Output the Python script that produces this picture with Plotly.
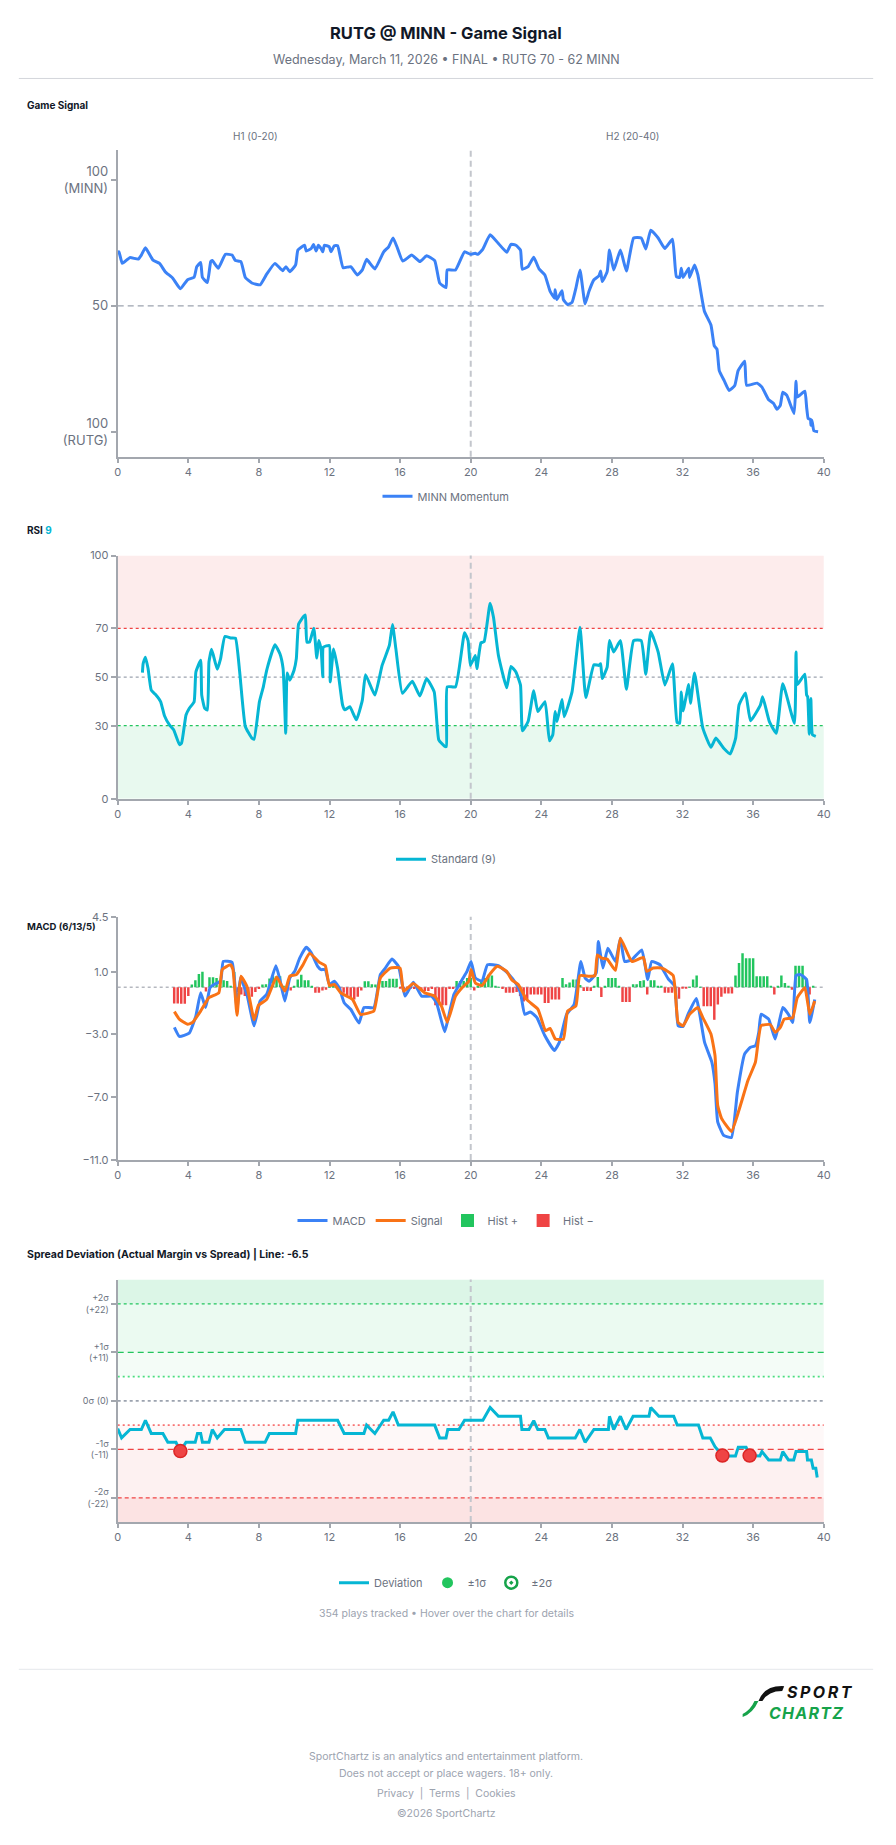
import plotly.graph_objects as go

W, H = 896, 1845


def py(p):
    return 1 - p / H


def px(p):
    return p / W


FONT = "Inter, 'Noto Sans', sans-serif"
AXIS_COL = "#a3a7ae"
TICK_COL = "#6b7280"

X_TICKS = [0, 4, 8, 12, 16, 20, 24, 28, 32, 36, 40]

# ---------------- Game Signal (MINN momentum, 0 = RUTG 100, 100 = MINN 100)
GS_TICKVALS = [0, 50, 100]
GS_TICKTEXT = ["100<br>(RUTG)", "50", "100<br>(MINN)"]
GS_POINTS = [
    (0, 71.3), (0.07, 71.5), (0.26, 66.9), (0.69, 69.2), (1.16, 68.6), (1.34, 70.2), (1.57, 73.1),
    (2.0, 68.2), (2.37, 66.9), (2.69, 63.6), (3.12, 61.0), (3.55, 56.8), (3.96, 60.4), (4.33, 61.4),
    (4.48, 65.6), (4.7, 67.3), (4.8, 61.3), (5.08, 59.3), (5.27, 67.6), (5.36, 68.0), (5.7, 65.0),
    (6.1, 70.5), (6.48, 70.2), (6.67, 68.0), (6.98, 67.6), (7.23, 61.3), (7.6, 59.1), (8.07, 58.4),
    (8.44, 62.6), (8.91, 66.9), (9.34, 64.0), (9.53, 65.6), (9.75, 63.6), (10.08, 66.3), (10.21, 72.2),
    (10.59, 74.1), (10.68, 71.8), (10.96, 72.8), (11.09, 74.4), (11.24, 71.8), (11.37, 74.1),
    (11.52, 72.8), (11.62, 71.5), (11.71, 74.1), (11.99, 73.5), (12.08, 71.5), (12.27, 73.9),
    (12.46, 73.9), (12.77, 65.2), (13.2, 65.6), (13.58, 62.3), (13.86, 64.3), (14.1, 68.5),
    (14.57, 64.7), (15.07, 71.5), (15.35, 73.5), (15.6, 77.0), (15.82, 73.5), (16.15, 67.8),
    (16.66, 70.2), (17.12, 67.6), (17.5, 69.9), (17.96, 68.0), (18.24, 59.1), (18.6, 57.3),
    (18.67, 64.3), (19.14, 64.3), (19.65, 71.5), (19.98, 70.5), (20.26, 70.9), (20.41, 70.5),
    (20.69, 72.6), (21.1, 78.3), (21.57, 74.8), (22.04, 71.3), (22.28, 74.5), (22.56, 74.1),
    (22.82, 72.2), (22.92, 64.6), (23.25, 65.6), (23.57, 69.3), (23.87, 64.7), (24.2, 62.3),
    (24.5, 55.8), (24.75, 53.1), (24.78, 56.4), (24.88, 52.5), (25.17, 56.0), (25.25, 52.5),
    (25.49, 50.5), (25.74, 51.4), (25.96, 57.1), (26.19, 64.3), (26.48, 50.8), (26.7, 55.8),
    (26.98, 60.4), (27.26, 61.9), (27.36, 63.9), (27.45, 59.7), (27.73, 63.6), (27.86, 72.2),
    (28.1, 64.3), (28.48, 72.2), (28.82, 63.9), (29.23, 77.0), (29.66, 77.0), (29.92, 72.6),
    (30.2, 80.1), (30.62, 77.0), (31.0, 72.8), (31.43, 76.5), (31.65, 61.7), (31.84, 61.3),
    (31.93, 65.0), (32.03, 61.3), (32.35, 65.0), (32.4, 61.3), (32.68, 66.3), (32.87, 62.3),
    (33.24, 47.9), (33.61, 42.4), (33.8, 34.1), (33.95, 32.8), (34.08, 24.3), (34.36, 20.3),
    (34.64, 16.4), (34.96, 18.4), (35.15, 24.3), (35.52, 28.0), (35.63, 18.4), (36.23, 19.3),
    (36.5, 17.7), (36.88, 12.7), (37.16, 11.2), (37.35, 8.9), (37.54, 10.5), (37.68, 15.7),
    (37.91, 14.4), (38.32, 7.2), (38.43, 20.1), (38.5, 13.8), (38.93, 16.1), (39.03, 9.8),
    (39.12, 5.2), (39.25, 4.9), (39.27, 2.6), (39.33, 4.6), (39.44, 0.4), (39.68, 0.0),
]

# ---------------- RSI (9)
RSI_TICKS = [0, 30, 50, 70, 100]
RSI_POINTS = [
    (1.4, 51.8), (1.44, 55.5), (1.57, 58.2), (1.72, 53.5), (1.9, 44.6), (2.13, 42.9), (2.43, 39.9),
    (2.65, 34.1), (2.93, 30.3), (3.17, 28.3), (3.5, 22.2), (3.62, 22.9), (3.87, 34.4), (4.05, 37.1),
    (4.33, 39.9), (4.43, 52.1), (4.7, 56.9), (4.76, 42.6), (4.93, 37.1), (5.08, 36.5), (5.17, 56.2),
    (5.32, 61.4), (5.64, 53.2), (5.83, 57.6), (6.07, 66.7), (6.39, 66.1), (6.67, 66.0), (6.91, 52.1),
    (7.23, 29.7), (7.6, 24.9), (7.73, 24.5), (8.03, 39.9), (8.25, 46.0), (8.44, 52.8), (8.91, 63.3),
    (9.19, 59.6), (9.37, 53.5), (9.52, 26.9), (9.6, 51.7), (9.75, 48.7), (9.99, 52.8), (10.12, 57.6),
    (10.25, 71.8), (10.54, 75.0), (10.63, 75.5), (10.72, 64.4), (10.87, 64.4), (11.11, 70.1),
    (11.28, 57.8), (11.39, 65.0), (11.52, 61.6), (11.62, 50.1), (11.65, 62.3), (11.99, 63.0),
    (12.04, 48.0), (12.23, 61.6), (12.46, 53.5), (12.74, 38.5), (12.87, 36.5), (13.15, 37.8),
    (13.52, 32.4), (13.86, 40.5), (14.04, 51.0), (14.57, 42.6), (14.98, 54.8), (15.39, 63.0),
    (15.57, 71.6), (15.76, 61.6), (16.13, 43.3), (16.69, 48.3), (17.12, 42.2), (17.5, 49.4),
    (17.93, 43.9), (18.19, 24.2), (18.53, 21.5), (18.62, 21.5), (18.67, 46.0), (19.14, 46.0),
    (19.65, 68.2), (19.85, 65.0), (19.98, 54.8), (20.26, 58.9), (20.35, 53.5), (20.58, 64.1),
    (20.76, 64.6), (21.1, 80.4), (21.29, 74.6), (21.57, 58.9), (22.04, 45.6), (22.28, 54.4),
    (22.56, 52.1), (22.82, 46.7), (22.93, 27.9), (23.25, 31.7), (23.57, 44.4), (23.8, 35.8),
    (24.21, 39.9), (24.46, 23.8), (24.65, 26.3), (24.78, 35.8), (24.89, 31.7), (25.17, 40.8),
    (25.3, 33.7), (25.74, 43.9), (26.19, 70.5), (26.52, 41.6), (26.98, 55.1), (27.26, 54.8),
    (27.36, 55.5), (27.45, 49.4), (27.73, 54.1), (27.86, 65.0), (28.1, 60.3), (28.48, 65.0),
    (28.82, 45.0), (29.23, 65.0), (29.66, 65.0), (29.92, 51.2), (30.2, 68.7), (30.62, 60.3),
    (31.0, 46.7), (31.43, 55.5), (31.69, 31.4), (31.84, 31.0), (31.93, 43.9), (32.03, 36.1),
    (32.35, 46.9), (32.45, 39.2), (32.68, 51.7), (33.15, 29.0), (33.61, 21.1), (33.89, 24.9),
    (34.36, 20.5), (34.7, 18.4), (35.01, 24.9), (35.2, 38.5), (35.57, 43.5), (35.85, 32.0),
    (36.41, 38.5), (36.54, 41.9), (36.92, 31.7), (37.31, 26.9), (37.68, 47.3), (38.34, 31.0),
    (38.43, 60.3), (38.5, 46.9), (38.93, 51.2), (39.03, 42.6), (39.09, 41.9), (39.18, 26.5),
    (39.27, 41.2), (39.36, 26.3), (39.55, 25.6),
]

# ---------------- MACD (6/13/5)
MACD_TICKS = [4.5, 1.0, -3.0, -7.0, -11.0]
MACD_POINTS = [
    (3.21, -2.56), (3.49, -3.13), (4.05, -2.92), (4.43, -1.82), (4.7, -0.35), (4.98, -1.29),
    (5.23, -0.03), (5.45, 0.18), (5.83, 0.39), (5.98, 1.65), (6.48, 1.59), (6.76, -1.4), (6.95, 0.6),
    (7.32, -0.45), (7.73, -2.45), (8.07, -0.87), (8.44, -0.45), (8.96, 1.38), (9.19, 0.49),
    (9.47, -0.87), (9.75, 0.6), (10.03, 1.02), (10.31, 1.86), (10.68, 2.56), (10.96, 2.22),
    (11.33, 1.34), (11.52, 1.13), (11.76, 1.13), (11.99, 0.18), (12.27, 0.39), (12.55, -0.03),
    (12.83, -0.98), (13.2, -1.4), (13.67, -2.28), (13.95, -1.29), (14.51, -1.29), (14.88, 0.81),
    (15.16, 1.23), (15.54, 1.8), (15.91, 1.34), (16.28, -0.56), (16.75, 0.33), (17.22, -0.56),
    (17.78, -0.56), (18.06, -0.98), (18.52, -2.83), (18.67, -2.24), (19.05, -0.45), (19.51, 0.49),
    (19.79, 1.02), (20.02, 1.65), (20.26, 0.6), (20.64, 0.39), (20.95, 1.44), (21.57, 1.38),
    (22.13, 0.87), (22.6, 0.18), (22.82, -0.35), (23.06, -1.72), (23.38, -1.57), (23.75, -1.93),
    (24.18, -3.04), (24.74, -4.03), (25.02, -3.51), (25.43, -1.72), (25.86, -1.08), (26.24, 1.65),
    (26.48, 0.6), (26.7, 0.39), (27.11, 0.92), (27.23, 2.92), (27.49, 1.23), (27.77, 2.49),
    (28.2, 1.65), (28.48, 3.13), (28.72, 1.65), (29.13, 1.76), (29.69, 2.39), (30.03, 0.49),
    (30.25, 1.65), (30.72, 1.44), (31.19, 0.54), (31.56, 0.07), (31.75, -2.45), (32.03, -2.49),
    (32.31, -1.72), (32.78, -0.71), (33.25, -3.51), (33.66, -4.77), (33.84, -6.14), (33.99, -8.56),
    (34.33, -9.44), (34.77, -9.57), (35.11, -6.66), (35.52, -4.24), (35.85, -3.82), (36.13, -3.72),
    (36.32, -2.87), (36.45, -1.72), (36.88, -2.03), (37.25, -3.3), (37.68, -1.29), (38.0, -1.72),
    (38.24, -2.24), (38.43, 0.75), (38.69, 0.81), (39.03, 0.49), (39.21, -2.24), (39.49, -0.77),
]
SIGNAL_POINTS = [
    (3.21, -1.55), (3.49, -2.03), (3.96, -2.35), (4.24, -2.24), (4.7, -1.51), (5.17, -0.66),
    (5.73, -0.35), (5.92, 1.13), (6.39, 1.44), (6.53, 1.13), (6.76, -1.78), (6.98, 0.71),
    (7.32, 0.07), (7.73, -2.07), (7.97, -1.15), (8.44, -0.77), (9.0, 0.66), (9.47, -0.24),
    (9.75, 0.71), (10.12, 0.81), (10.5, 1.44), (10.87, 2.18), (11.43, 1.59), (11.76, 1.38),
    (11.99, 0.12), (12.27, 0.18), (12.64, -0.35), (13.3, -0.77), (13.76, -1.72), (14.51, -1.51),
    (14.88, 0.6), (15.44, 1.23), (16.0, 1.23), (16.19, -0.24), (16.75, 0.24), (17.4, -0.35),
    (17.96, -0.56), (18.34, -1.19), (18.67, -2.22), (19.14, -0.56), (19.51, -0.03), (19.89, 0.39),
    (20.02, 1.13), (20.26, 0.28), (20.64, 0.12), (21.1, 0.87), (21.51, 1.34), (22.04, 1.02),
    (22.32, 0.49), (22.69, 0.18), (23.16, -0.77), (23.81, -1.4), (24.24, -2.77), (24.5, -2.62),
    (24.8, -3.3), (25.25, -3.3), (25.49, -1.51), (25.96, -1.19), (26.18, 0.75), (26.7, 0.71),
    (27.04, 0.75), (27.17, 2.07), (27.41, 1.86), (27.73, 1.8), (28.2, 1.08), (28.48, 3.13),
    (29.13, 1.65), (29.78, 1.91), (29.97, 1.02), (30.34, 1.23), (30.81, 1.23), (31.47, 0.75),
    (31.75, -2.24), (32.03, -2.45), (32.4, -1.72), (32.87, -1.29), (33.15, -1.93), (33.61, -2.98),
    (33.84, -4.35), (33.99, -7.51), (34.21, -8.35), (34.77, -9.19), (35.2, -7.82), (35.71, -5.93),
    (36.13, -4.77), (36.45, -2.45), (36.97, -2.37), (37.25, -2.87), (37.54, -2.56), (37.76, -2.03),
    (38.24, -1.93), (38.5, -0.66), (38.93, -0.03), (39.21, -1.72), (39.49, -0.87),
]
HIST_START, HIST_STEP = 3.2, 0.2
HIST_VALUES = [
    -1.03, -1.03, -1.05, -1.05, -0.55, 0.18, 0.45, 0.85, 1.0, -0.27,
    0.64, 0.64, 0.6, 0.45, 0.45, 0.4, 0.1, 0.98, -0.3, -0.45,
    -0.55, -0.75, -0.6, -0.3, -0.1, 0.18, 0.2, 0.56, 0.7, 0.7,
    0.7, 0.1, -0.24, -0.2, 0.05, 0.5, 0.8, 0.45, 0.45, 0.05,
    -0.35, -0.35, -0.2, -0.15, 0.05, 0.1, 0.05, -0.15, -0.35, -0.5,
    -0.75, -0.78, -0.6, -0.2, 0.39, 0.39, 0.2, 0.18, 0.1, 0.4,
    0.4, 0.55, 0.55, 0.55, -0.05, -0.1, -0.1, -0.08, -0.1, -0.1,
    -0.24, -0.24, -0.24, -0.1, -1.15, -1.15, -1.15, -1.15, -0.1, -0.1,
    0.4, 0.4, 0.4, 0.6, 0.6, -0.2, 0.05, 0.4, 0.6, 0.8,
    0.75, 0.05, 0.03, -0.1, -0.35, -0.35, -0.35, -0.3, -0.55, -0.9,
    -0.78, -0.45, -0.45, -0.45, -0.45, -1.0, -1.0, -0.78, -0.78, -0.78,
    0.6, 0.2, 0.3, 0.5, 0.5, 0.15, -0.24, -0.24, -0.24, 0.1,
    0.66, -0.62, 0.05, 0.6, 0.6, 0.6, 0.05, -0.94, -0.94, -0.94,
    0.2, 0.2, 0.4, 0.45, -0.45, 0.45, 0.45, 0.1, 0.1, -0.35,
    -0.35, -0.35, -0.73, -0.73, -0.05, -0.05, 0.02, 0.5, 0.75, 0.02,
    -1.2, -1.2, -1.2, -2.07, -1.1, -0.6, -0.4, -0.4, -0.4, 0.75,
    1.55, 2.18, 1.86, 1.86, 1.86, 0.7, 0.7, 0.7, 0.7, 0.1,
    -0.45, 0.05, 0.75, 0.28, 0.05, -0.15, 1.38, 1.38, 1.38, 0.6,
    -0.45, 0.1,
]

# ---------------- Spread deviation (actual margin vs spread)
SPREAD_TICKVALS = [22, 11, 0, -11, -22]
SPREAD_TICKTEXT = ["+2σ<br>(+22)", "+1σ<br>(+11)", "0σ (0)", "-1σ<br>(-11)", "-2σ<br>(-22)"]
DEV_POINTS = [
    (0, -6.3), (0.22, -8.4), (0.7, -6.5), (1.34, -6.5), (1.57, -4.4), (1.9, -7.4), (2.56, -7.4),
    (2.84, -9.4), (3.3, -9.4), (3.55, -11.4), (3.87, -9.4), (4.39, -9.4), (4.52, -7.4), (4.7, -7.4),
    (4.8, -9.4), (5.17, -9.4), (5.36, -6.5), (5.64, -8.4), (6.05, -6.5), (6.98, -6.5), (7.23, -9.4),
    (8.35, -9.4), (8.59, -7.4), (10.08, -7.4), (10.2, -4.4), (12.46, -4.4), (12.83, -7.4),
    (13.95, -7.4), (14.1, -5.5), (14.57, -7.4), (15.07, -4.4), (15.35, -4.4), (15.6, -2.5),
    (15.9, -5.5), (17.96, -5.5), (18.24, -8.4), (18.6, -8.4), (18.7, -6.5), (19.33, -6.5),
    (19.65, -4.4), (20.69, -4.4), (21.1, -1.5), (21.57, -3.5), (22.82, -3.5), (22.9, -6.5),
    (23.3, -6.5), (23.57, -4.5), (23.8, -6.5), (24.2, -6.5), (24.4, -8.4), (25.92, -8.4),
    (26.18, -6.5), (26.48, -9.4), (26.98, -6.5), (27.8, -6.5), (27.86, -3.5), (28.1, -6.5),
    (28.48, -3.5), (28.8, -6.5), (29.2, -3.5), (30.1, -3.5), (30.2, -1.5), (30.66, -3.5),
    (31.5, -3.5), (31.7, -5.5), (32.9, -5.5), (33.15, -8.4), (33.57, -8.4), (33.84, -10.4),
    (34.26, -12.4), (34.64, -12.5), (35.0, -12.5), (35.16, -10.5), (35.6, -10.5), (35.8, -12.4),
    (36.38, -12.5), (36.5, -11.5), (36.88, -13.4), (37.54, -13.4), (37.68, -11.5), (38.0, -13.4),
    (38.3, -13.4), (38.43, -11.5), (39.03, -11.5), (39.08, -13.4), (39.3, -13.4), (39.4, -15.3),
    (39.55, -15.3), (39.63, -17.4),
]
OUTLIER_X = [3.55, 34.26, 35.8]
OUTLIER_Y = [-11.4, -12.4, -12.4]


def split(points):
    return [p[0] for p in points], [p[1] for p in points]


gs_x, gs_y = split(GS_POINTS)
rsi_x, rsi_y = split(RSI_POINTS)
macd_x, macd_y = split(MACD_POINTS)
sig_x, sig_y = split(SIGNAL_POINTS)
dev_x, dev_y = split(DEV_POINTS)
hist_x = [round(HIST_START + HIST_STEP * i, 2) for i in range(len(HIST_VALUES))]
hp_x = [x for x, v in zip(hist_x, HIST_VALUES) if v >= 0]
hp_y = [v for v in HIST_VALUES if v >= 0]
hn_x = [x for x, v in zip(hist_x, HIST_VALUES) if v < 0]
hn_y = [v for v in HIST_VALUES if v < 0]

BLUE = "#3b82f6"
CYAN = "#06b6d4"
ORANGE = "#f97316"
GREEN = "#22c55e"
RED = "#ef4444"

fig = go.Figure()

# Game signal
fig.add_trace(go.Scatter(x=gs_x, y=gs_y, mode="lines", name="MINN Momentum",
                         line=dict(color=BLUE, width=3, shape="spline", smoothing=0.4),
                         xaxis="x", yaxis="y", legend="legend", hoverinfo="skip"))
# RSI
fig.add_trace(go.Scatter(x=rsi_x, y=rsi_y, mode="lines", name="Standard (9)",
                         line=dict(color=CYAN, width=3, shape="spline", smoothing=0.4),
                         xaxis="x2", yaxis="y2", legend="legend2", hoverinfo="skip"))
# MACD
fig.add_trace(go.Bar(x=hp_x, y=hp_y, name="Hist +", marker=dict(color=GREEN, line=dict(width=0)),
                     width=0.14, xaxis="x3", yaxis="y3", legend="legend3", showlegend=False,
                     hoverinfo="skip"))
fig.add_trace(go.Bar(x=hn_x, y=hn_y, name="Hist −", marker=dict(color=RED, line=dict(width=0)),
                     width=0.14, xaxis="x3", yaxis="y3", legend="legend3", showlegend=False,
                     hoverinfo="skip"))
fig.add_trace(go.Scatter(x=macd_x, y=macd_y, mode="lines", name="MACD",
                         line=dict(color=BLUE, width=3, shape="spline", smoothing=0.4),
                         xaxis="x3", yaxis="y3", legend="legend3", hoverinfo="skip"))
fig.add_trace(go.Scatter(x=sig_x, y=sig_y, mode="lines", name="Signal",
                         line=dict(color=ORANGE, width=3, shape="spline", smoothing=0.4),
                         xaxis="x3", yaxis="y3", legend="legend3", hoverinfo="skip"))
# legend-only entries for histogram colours (square swatches)
fig.add_trace(go.Scatter(x=[None], y=[None], mode="markers", name="Hist +",
                         marker=dict(color=GREEN, size=13, symbol="square"),
                         xaxis="x3", yaxis="y3", legend="legend3"))
fig.add_trace(go.Scatter(x=[None], y=[None], mode="markers", name="Hist −",
                         marker=dict(color=RED, size=13, symbol="square"),
                         xaxis="x3", yaxis="y3", legend="legend3"))
# Spread deviation
fig.add_trace(go.Scatter(x=dev_x, y=dev_y, mode="lines", name="Deviation",
                         line=dict(color=CYAN, width=3),
                         xaxis="x4", yaxis="y4", legend="legend4", hoverinfo="skip"))
fig.add_trace(go.Scatter(x=OUTLIER_X, y=OUTLIER_Y, mode="markers", showlegend=False,
                         marker=dict(color=RED, size=13, line=dict(color="#dc2626", width=1.5)),
                         xaxis="x4", yaxis="y4", hoverinfo="skip"))
fig.add_trace(go.Scatter(x=[None], y=[None], mode="markers", name="±1σ",
                         marker=dict(color=GREEN, size=11),
                         xaxis="x4", yaxis="y4", legend="legend4"))
fig.add_trace(go.Scatter(x=[None], y=[None], mode="markers", name="±2σ",
                         marker=dict(color="#16a34a", size=12, symbol="circle-open-dot",
                                     line=dict(width=2.5)),
                         xaxis="x4", yaxis="y4", legend="legend4"))

X_DOMAIN = [px(116), px(830)]
DOMAINS = {
    "": [py(453.3), py(144)],
    "2": [py(797.7), py(552.7)],
    "3": [py(1161.7), py(916.7)],
    "4": [py(1526.7), py(1282.3)],
}


def xaxis(n):
    return dict(domain=X_DOMAIN, anchor="y" + n, range=[0, 40], tickvals=X_TICKS,
                showline=True, linecolor=AXIS_COL, linewidth=2, ticks="outside", ticklen=4,
                tickcolor=AXIS_COL, tickwidth=1.5, showgrid=False, zeroline=False,
                tickfont=dict(size=11, color=TICK_COL, family=FONT), fixedrange=True)


def yaxis(n, rng, tickvals, ticktext=None, size=11, fmt=None):
    d = dict(domain=DOMAINS[n], anchor="x" + n, range=rng, tickvals=tickvals,
             showline=True, linecolor=AXIS_COL, linewidth=2, ticks="outside", ticklen=5,
             tickcolor=AXIS_COL, tickwidth=1.5, showgrid=False, zeroline=False,
             tickfont=dict(size=size, color=TICK_COL, family=FONT), fixedrange=True)
    if ticktext is not None:
        d["ticktext"] = ticktext
    if fmt:
        d["tickformat"] = fmt
    return d


def hline(n, y, color, dash, width=1.3):
    return dict(type="line", xref=f"x{n} domain", yref=f"y{n}", x0=0, x1=1, y0=y, y1=y,
                line=dict(color=color, dash=dash, width=width), layer="below")


def vline(n):
    return dict(type="line", xref=f"x{n}", yref=f"y{n} domain", x0=20, x1=20, y0=0, y1=1,
                line=dict(color="#c3c6cc", dash="6px,4px", width=2), layer="below")


def band(n, y0, y1, color):
    return dict(type="rect", xref=f"x{n} domain", yref=f"y{n}", x0=0, x1=1, y0=y0, y1=y1,
                fillcolor=color, line=dict(width=0), layer="below")


shapes = [
    # header / footer separators
    dict(type="line", xref="paper", yref="paper", x0=px(16), x1=px(880), y0=py(72), y1=py(72),
         line=dict(color="#d4d6db", width=1)),
    dict(type="line", xref="paper", yref="paper", x0=px(16), x1=px(880), y0=py(1675), y1=py(1675),
         line=dict(color="#e5e7eb", width=1)),
    # game signal
    hline("", 50, "#9ca3af", "6px,4px", 1.3),
    vline(""),
    # rsi
    band("2", 70, 100, "rgba(239,68,68,0.10)"),
    band("2", 0, 30, "rgba(34,197,94,0.10)"),
    hline("2", 70, "#ef4444", "3px,3px"),
    hline("2", 50, "#9ca3af", "3px,3px"),
    hline("2", 30, "#22c55e", "3px,3px"),
    vline("2"),
    # macd
    hline("3", 0, "#b5b8bf", "3px,3px", 1.5),
    vline("3"),
    # spread bands
    band("4", 5.5, 27.5, "rgba(34,197,94,0.05)"),
    band("4", 11, 27.5, "rgba(34,197,94,0.04)"),
    band("4", 22, 27.5, "rgba(34,197,94,0.07)"),
    band("4", -27.5, -5.5, "rgba(239,68,68,0.04)"),
    band("4", -27.5, -11, "rgba(239,68,68,0.04)"),
    band("4", -27.5, -22, "rgba(239,68,68,0.08)"),
    hline("4", 22, "#22c55e", "3px,3px"),
    hline("4", 11, "#22c55e", "6px,4px"),
    hline("4", 5.5, "#4ade80", "2px,3px", 1.6),
    hline("4", 0, "#9ca3af", "3px,3px", 1.6),
    hline("4", -5.5, "#f87171", "2px,3px", 1.6),
    hline("4", -11, "#ef4444", "6px,4px"),
    hline("4", -22, "#ef4444", "4px,3px"),
    vline("4"),
    # logo swoosh
    dict(type="path", xref="paper", yref="paper",
         path=(f"M {px(790)},{py(1692)} Q {px(770)},{py(1691)} {px(764)},{py(1707)} "
               f"L {px(768)},{py(1707)} Q {px(774)},{py(1697)} {px(788)},{py(1697)} Z"),
         fillcolor="#111111", line=dict(width=0)),
    dict(type="path", xref="paper", yref="paper",
         path=(f"M {px(764)},{py(1707)} Q {px(758)},{py(1720)} {px(748)},{py(1723)} "
               f"L {px(748)},{py(1720)} Q {px(756)},{py(1716)} {px(760)},{py(1707)} Z"),
         fillcolor="#16a34a", line=dict(width=0)),
]


def ann(text, x, y, size, color="#111827", xanchor="center"):
    return dict(text=text, x=x, y=y, xref="paper", yref="paper", showarrow=False,
                xanchor=xanchor, yanchor="middle", borderpad=0,
                font=dict(size=size, color=color, family=FONT))


TS = "\u2009"
HS = "\u200a"
annotations = [
    ann("<b>RUTG @ MINN - Game Signal</b>", 0.5, py(26), 16.5),
    ann("Wednesday, March 11, 2026 • FINAL • RUTG 70 - 62 MINN", 0.5, py(53), 12.5, "#6b7280"),
    ann("<b>Game Signal</b>", px(23), py(99), 10, xanchor="left"),
    ann("H1 (0-20)", px(255), py(130), 10, "#6b7280"),
    ann("H2 (20-40)", px(637), py(130), 10, "#6b7280"),
    ann("<b>RSI <span style='color:#06b6d4'>9</span></b>", px(23), py(527), 10, xanchor="left"),
    ann("<b>MACD (6/13/5)</b>", px(23), py(927), 9.5, xanchor="left"),
    ann("<b>Spread Deviation (Actual Margin vs Spread) | Line: -6.5</b>", px(23), py(1257), 10.5,
        xanchor="left"),
    ann("354 plays tracked • Hover over the chart for details", 0.5, py(1619), 10.5, "#9ca3af"),
    ann("<b><i>" + TS.join("SPORT") + "</i></b>", px(826), py(1698), 16, "#111111"),
    ann("<b><i>" + HS.join("CHARTZ") + "</i></b>", px(812), py(1719), 16, "#16a34a"),
    ann("SportChartz is an analytics and entertainment platform.", 0.5, py(1763), 10.5, "#9ca3af"),
    ann("Does not accept or place wagers. 18+ only.", 0.5, py(1780), 10.5, "#9ca3af"),
    ann("Privacy  |  Terms  |  Cookies", 0.5, py(1800), 10.5, "#9ca3af"),
    ann("©2026 SportChartz", 0.5, py(1820), 10.5, "#9ca3af"),
]


def legend(ypx):
    return dict(x=0.5, xanchor="center", y=py(ypx), yanchor="middle", orientation="h",
                font=dict(size=11, color=TICK_COL, family=FONT), bgcolor="rgba(0,0,0,0)",
                itemclick=False, itemdoubleclick=False)


fig.update_layout(
    width=W, height=H, autosize=False,
    margin=dict(l=0, r=0, t=0, b=0),
    paper_bgcolor="white", plot_bgcolor="white",
    font=dict(family=FONT, color=TICK_COL),
    barmode="overlay",
    hovermode=False,
    xaxis=xaxis(""), xaxis2=xaxis("2"), xaxis3=xaxis("3"), xaxis4=xaxis("4"),
    yaxis=yaxis("", [-10, 112], GS_TICKVALS, GS_TICKTEXT, size=13),
    yaxis2=yaxis("2", [0, 100], RSI_TICKS),
    yaxis3=yaxis("3", [-11, 4.5], MACD_TICKS, fmt=".1f"),
    yaxis4=yaxis("4", [-27.5, 27.5], SPREAD_TICKVALS, SPREAD_TICKTEXT, size=9),
    legend=legend(493), legend2=legend(858.7), legend3=legend(1222.7), legend4=legend(1587.7),
    shapes=shapes,
    annotations=annotations,
)

fig.write_html("out.html", config={"displayModeBar": False})
